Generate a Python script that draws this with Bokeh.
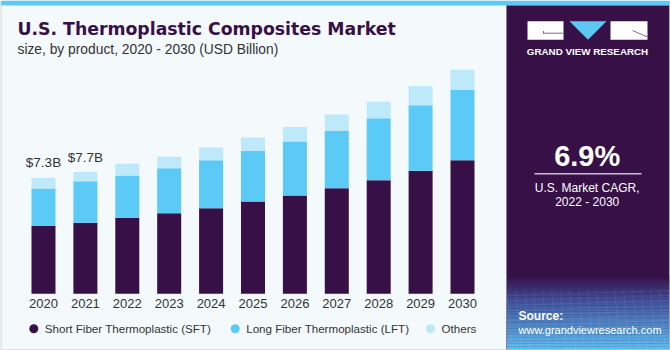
from bokeh.plotting import figure
from bokeh.models import Range1d, ColumnDataSource
from bokeh.core.properties import value
from bokeh.embed import file_html
from bokeh.resources import INLINE

# ---------------- data ----------------
years = [2020, 2021, 2022, 2023, 2024, 2025, 2026, 2027, 2028, 2029, 2030]
year_labels = [str(y) for y in years]
sft = [4.28, 4.47, 4.78, 5.07, 5.39, 5.81, 6.19, 6.65, 7.15, 7.74, 8.41]
lft = [2.35, 2.62, 2.66, 2.83, 3.02, 3.19, 3.40, 3.59, 3.90, 4.13, 4.41]
others = [0.67, 0.57, 0.74, 0.72, 0.80, 0.84, 0.90, 1.05, 1.05, 1.20, 1.28]
total_labels = ["$7.3B", "$7.7B"]
series_names = ["Short Fiber Thermoplastic (SFT)", "Long Fiber Thermoplastic (LFT)", "Others"]
title_text = "U.S. Thermoplastic Composites Market"
subtitle_text = "size, by product, 2020 - 2030 (USD Billion)"
cagr_text = "6.9%"
cagr_lines = ["U.S. Market CAGR,", "2022 - 2030"]

# ---------------- styles ----------------
PURPLE = "#371047"
BLUE = "#5bcaf7"
LIGHT = "#bde9fa"
BG = "#f4f9fc"
TXT = "#333333"
FONT = value("Liberation Sans")

p = figure(width=670, height=350,
           x_range=Range1d(2018.974, 2034.964),
           y_range=Range1d(-3.568, 18.458),
           output_backend="svg", toolbar_location=None,
           min_border=0, x_axis_location=None, y_axis_location=None,
           background_fill_color=BG, border_fill_color=BG,
           outline_line_color=None)
p.xgrid.visible = False
p.ygrid.visible = False
p.extra_x_ranges = {"px": Range1d(0, 670)}
p.extra_y_ranges = {"py": Range1d(350, 0)}
PX = dict(x_range_name="px", y_range_name="py")

def box(l, r, t, b, color, alpha=1.0):
    p.quad(left=l, right=r, top=t, bottom=b, fill_color=color, fill_alpha=alpha,
           line_color=None, **PX)

def seg(x0, y0, x1, y1, color, w=1, alpha=1.0):
    p.segment(x0=x0, y0=y0, x1=x1, y1=y1, line_color=color, line_width=w,
              line_alpha=alpha, **PX)

def txt(x, y, s, size, color, align="left", bold=False, font=FONT):
    p.text(x=x, y=y, text=[s], text_font=font, text_font_size=size,
           text_color=color, text_align=align, text_baseline="middle",
           text_font_style="bold" if bold else "normal", **PX)

# frame decorations
box(0, 670, 0, 5, "#5bc8f5")
box(506, 669, 5, 349, PURPLE)

# gradient at bottom of right panel
def hex2rgb(h):
    return tuple(int(h[i:i + 2], 16) for i in (1, 3, 5))

stops = [(276, hex2rgb(PURPLE)), (300, hex2rgb("#3f4f98")), (349, hex2rgb("#5bbcf0"))]
n = 48
y0, y1 = 276, 349
for i in range(n):
    ya = y0 + (y1 - y0) * i / n
    yb = y0 + (y1 - y0) * (i + 1) / n
    ym = (ya + yb) / 2
    for (sa, ca), (sb, cb) in zip(stops[:-1], stops[1:]):
        if sa <= ym <= sb:
            t = (ym - sa) / (sb - sa)
            c = tuple(int(round(ca[k] + (cb[k] - ca[k]) * t)) for k in range(3))
            break
    box(506, 669, ya, yb + 0.3, "#%02x%02x%02x" % c)

# faint grid texture
for k in range(12):
    yy = 292 + k * 5
    seg(506, yy + 3, 669, yy - 2, "#ffffff", 0.6, 0.12)
for k in range(20):
    xx = 506 + k * 9
    seg(xx, 290, xx + 6, 349, "#ffffff", 0.6, 0.12)

# borders
seg(0.5, 0, 0.5, 350, "#cccccc")
seg(669.5, 0, 669.5, 350, "#cccccc")
seg(0, 349.5, 670, 349.5, "#cccccc")
seg(506, 5, 506, 349, "#8c7f99", 1)

# logo
box(527, 563, 20.7, 39.3, "#ffffff")
box(610, 647, 20.7, 39.3, "#ffffff")
p.patch(x=[569, 606, 587.5], y=[20.7, 20.7, 39.3], fill_color="#5bc8f5", line_color=None, **PX)
seg(543, 32.7, 563, 32.7, "#7d6b8c", 1)
seg(543, 30.5, 543, 33.2, "#7d6b8c", 1)
seg(632, 30, 647, 36.5, "#7d6b8c", 1)
txt(587, 50.7, "GRAND VIEW RESEARCH", "9.8px", "#ffffff", "center", True)

# CAGR block
txt(586.7, 155, cagr_text, "29px", "#ffffff", "center", True)
seg(534, 173.3, 641, 173.3, "#c9bfd1", 1.5)
txt(586.7, 187.5, cagr_lines[0], "12px", "#ffffff", "center")
txt(586.7, 201.5, cagr_lines[1], "12px", "#ffffff", "center")

# source
txt(518, 315.5, "Source:", "12px", "#ffffff", "left", True)
txt(518, 329.3, "www.grandviewresearch.com", "11px", "#ffffff", "left")

# titles
txt(17, 28, title_text, "17.3px", PURPLE, "left", True, value("DejaVu Sans"))
txt(17, 48.8, subtitle_text, "13.8px", TXT, "left")

# ---------------- bars ----------------
src = ColumnDataSource(dict(year=years, sft=sft, lft=lft, oth=others))
p.vbar_stack(["sft", "lft", "oth"], x="year", width=0.573, source=src,
             color=[PURPLE, BLUE, LIGHT], line_color=None)

totals = [a + b + c for a, b, c in zip(sft, lft, others)]
p.text(x=years[:len(total_labels)], y=totals[:len(total_labels)], text=total_labels,
       y_offset=-15, text_align="center", text_baseline="middle",
       text_font=FONT, text_font_size="13.5px", text_color=TXT)

# year labels
p.text(x=years, y=303.3, text=year_labels, y_range_name="py",
       text_align="center", text_baseline="middle",
       text_font=FONT, text_font_size="13px", text_color=TXT)

# legend
leg_x = [33.3, 234.7, 430]
leg_colors = [PURPLE, BLUE, LIGHT]
p.scatter(x=leg_x, y=[328.3] * 3, size=9, marker="circle", fill_color=leg_colors,
          line_color=None, **PX)
p.text(x=[x + 11 for x in leg_x], y=[328.3] * 3, text=series_names,
       text_font=FONT, text_font_size="11.6px", text_color=TXT,
       text_align="left", text_baseline="middle", **PX)

open("out.html", "w").write(file_html(p, INLINE))
